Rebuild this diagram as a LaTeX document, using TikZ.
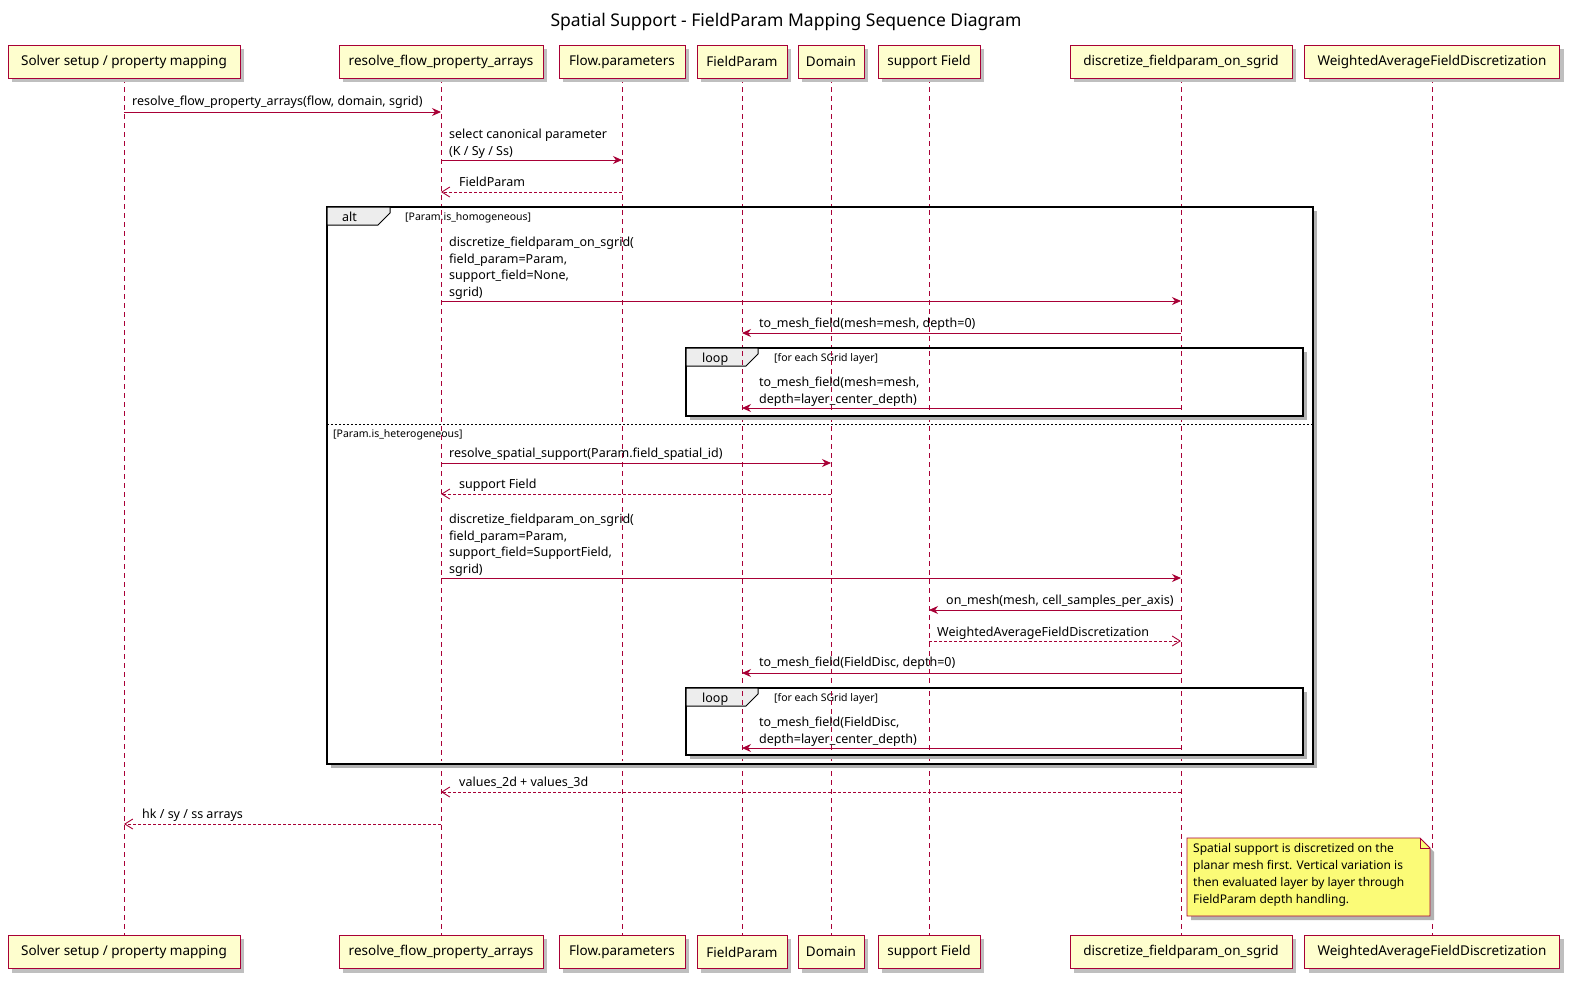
\documentclass[tikz,border=0pt]{standalone}
\usepackage{fontspec}
\setmainfont{Noto Sans}
\usetikzlibrary{arrows.meta,calc}
\definecolor{lc}{HTML}{A80036}
\definecolor{pf}{HTML}{FEFECE}
\definecolor{nf}{HTML}{FBFB77}
\tikzset{
 part/.style={draw=lc,fill=pf,line width=1pt,minimum height=33pt,inner xsep=5pt,font=\fontsize{13.5}{15}\selectfont,anchor=center},
 life/.style={lc,dashed,dash pattern=on 5pt off 4pt,line width=0.8pt},
 msg/.style={lc,line width=0.9pt,-{Stealth[length=9pt,width=8pt]}},
 ret/.style={lc,line width=0.9pt,dash pattern=on 3pt off 2pt,-{Straight Barb[length=8pt,width=10pt]}},
 lbl/.style={font=\fontsize{12.5}{16.5}\selectfont,anchor=base west,inner sep=0pt,align=left},
 frm/.style={draw=black,line width=1.8pt},
 guard/.style={font=\fontsize{10.5}{12}\bfseries\selectfont,anchor=base west,inner sep=0pt},
 tabl/.style={font=\fontsize{12.5}{14}\bfseries\selectfont,anchor=base west,inner sep=0pt},
}
\begin{document}
\begin{tikzpicture}[x=1pt,y=-1pt]
\useasboundingbox (0,0) rectangle (1588,989);
\node[font=\fontsize{17.5}{20}\selectfont] (title) at (786,22) {Spatial Support - FieldParam Mapping Sequence Diagram};
% lifelines
\foreach \n/\x in {1/124,2/441,3/622,4/742,5/831,6/929,7/1181,8/1432}{
 \coordinate (L\n) at (\x,78);
 \coordinate (B\n) at (\x,935);
 \draw[life] (L\n) -- (B\n);
}
% participants
\foreach \n/\x/\w/\t in {1/124/232/{Solver setup / property mapping},2/441/204/{resolve\_flow\_property\_arrays},3/622/126/{Flow.parameters},4/742/90/{FieldParam},5/831/66/{Domain},6/929/102/{support Field},7/1181/222/{discretize\_fieldparam\_on\_sgrid},8/1432/255/{WeightedAverageFieldDiscretization}}{
 \fill[black!25] (\x-\w/2+4,49) rectangle (\x+\w/2+4,82);
 \node[part,minimum width=\w pt] (top\n) at (\x,61.5) {\t};
 \fill[black!25] (\x-\w/2+4,939) rectangle (\x+\w/2+4,973);
 \node[part,minimum width=\w pt] (bot\n) at (\x,952) {\t};
}
% messages
\draw[msg] (L1 |- 0,112) -- (L2 |- 0,112);
\node[lbl] (m1) at (132,105) {resolve\_flow\_property\_arrays(flow, domain, sgrid)};
\draw[msg] (L2 |- 0,160) -- (L3 |- 0,160);
\node[lbl] (m2) at (449,155) {select canonical parameter\\(K / Sy / Ss)};
\draw[ret] (L3 |- 0,192) -- (L2 |- 0,192);
\node[lbl] (m3) at (459,186) {FieldParam};
% alt frame
\fill[black!30] (331,211) rectangle (1317,768);
\draw[frm,fill=white] (327,207) rectangle (1313,764);
\draw[black,line width=1pt,fill=black!7] (327,207) -- (327,225) -- (378,225) -- (390,213) -- (390,207) -- cycle;
\node[tabl] (alt) at (342,221) {alt};
\node[guard] (g1) at (405,220) {[Param.is\_homogeneous]};
\foreach \n in {2,3,4,5,6,7}{\draw[life] (L\n |- 0,210) -- (L\n |- 0,761);}
\draw[msg] (L2 |- 0,301) -- (L7 |- 0,301);
\node[lbl] (m4) at (449,296) {discretize\_fieldparam\_on\_sgrid(\\field\_param=Param,\\support\_field=None,\\sgrid)};
\draw[msg] (L7 |- 0,333) -- (L4 |- 0,333);
\node[lbl] (m5) at (759,327) {to\_mesh\_field(mesh=mesh, depth=0)};
% loop 1
\fill[black!30] (690,352) rectangle (1307,420);
\draw[frm,fill=white] (686,348) rectangle (1303,416);
\draw[black,line width=1pt,fill=black!7] (686,348) -- (686,366) -- (746,366) -- (758,354) -- (758,348) -- cycle;
\node[tabl] (lp1) at (702,362) {loop};
\node[guard] (g2) at (774,361) {[for each SGrid layer]};
\foreach \n in {4,5,6,7}{\draw[life] (L\n |- 0,351) -- (L\n |- 0,413);}
\draw[msg] (L7 |- 0,408) -- (L4 |- 0,408);
\node[lbl] (m6) at (759,403) {to\_mesh\_field(mesh=mesh,\\depth=layer\_center\_depth)};
% separator
\draw[black,line width=0.8pt,dash pattern=on 2pt off 2pt] (327,424) -- (1313,424);
\node[guard] (g3) at (333,437) {[Param.is\_heterogeneous]};
\draw[msg] (L2 |- 0,463) -- (L5 |- 0,463);
\node[lbl] (m7) at (449,457) {resolve\_spatial\_support(Param.field\_spatial\_id)};
\draw[ret] (L5 |- 0,494) -- (L2 |- 0,494);
\node[lbl] (m8) at (459,488) {support Field};
\draw[msg] (L2 |- 0,578) -- (L7 |- 0,578);
\node[lbl] (m9) at (449,573) {discretize\_fieldparam\_on\_sgrid(\\field\_param=Param,\\support\_field=SupportField,\\sgrid)};
\draw[msg] (L7 |- 0,610) -- (L6 |- 0,610);
\node[lbl] (m10) at (946,604) {on\_mesh(mesh, cell\_samples\_per\_axis)};
\draw[ret] (L6 |- 0,641) -- (L7 |- 0,641);
\node[lbl] (m11) at (937,636) {WeightedAverageFieldDiscretization};
\draw[msg] (L7 |- 0,673) -- (L4 |- 0,673);
\node[lbl] (m12) at (759,666) {to\_mesh\_field(FieldDisc, depth=0)};
% loop 2
\fill[black!30] (690,692) rectangle (1307,759);
\draw[frm,fill=white] (686,688) rectangle (1303,755);
\draw[black,line width=1pt,fill=black!7] (686,688) -- (686,706) -- (746,706) -- (758,694) -- (758,688) -- cycle;
\node[tabl] (lp2) at (702,702) {loop};
\node[guard] (g4) at (774,701) {[for each SGrid layer]};
\foreach \n in {4,5,6,7}{\draw[life] (L\n |- 0,691) -- (L\n |- 0,752);}
\draw[msg] (L7 |- 0,748) -- (L4 |- 0,748);
\node[lbl] (m13) at (759,743) {to\_mesh\_field(FieldDisc,\\depth=layer\_center\_depth)};
% returns
\draw[ret] (L7 |- 0,792) -- (L2 |- 0,792);
\node[lbl] (m14) at (459,786) {values\_2d + values\_3d};
\draw[ret] (L2 |- 0,824) -- (L1 |- 0,824);
\node[lbl] (m15) at (142,818) {hk / sy / ss arrays};
% note
\fill[black!30] (1191,842) -- (1424,842) -- (1434,852) -- (1434,920) -- (1191,920) -- cycle;
\draw[lc,line width=0.8pt,fill=nf] (1187,838) -- (1420,838) -- (1430,848) -- (1430,916) -- (1187,916) -- cycle;
\draw[lc,line width=0.8pt] (1420,838) -- (1420,848) -- (1430,848);
\node[font=\fontsize{12}{17}\selectfont,anchor=north west,align=left,inner sep=0pt] (note) at (1193,843) {Spatial support is discretized on the\\planar mesh first. Vertical variation is\\then evaluated layer by layer through\\FieldParam depth handling.};
\end{tikzpicture}
\end{document}
